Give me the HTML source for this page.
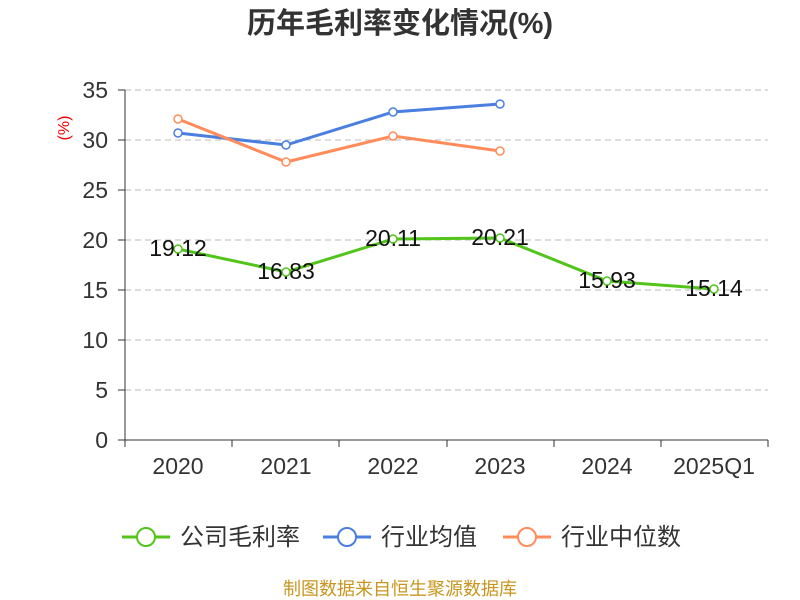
<!DOCTYPE html>
<html><head><meta charset="utf-8"><style>body{margin:0;background:#fff}svg{display:block}</style></head><body>
<svg width="800" height="600" xmlns="http://www.w3.org/2000/svg" font-family="Liberation Sans, Noto Sans CJK SC, sans-serif">
<text x="400" y="33" text-anchor="middle" font-size="29" font-weight="bold" fill="#333">历年毛利率变化情况(%)</text>
<text transform="translate(69,128) rotate(-90)" text-anchor="middle" font-size="16" fill="#e00">(%)</text>
<g stroke="#bbb" stroke-dasharray="6,4" stroke-width="1">
<line x1="125" x2="768" y1="90" y2="90"/><line x1="125" x2="768" y1="140" y2="140"/><line x1="125" x2="768" y1="190" y2="190"/><line x1="125" x2="768" y1="240" y2="240"/><line x1="125" x2="768" y1="290" y2="290"/><line x1="125" x2="768" y1="340" y2="340"/><line x1="125" x2="768" y1="390" y2="390"/>
</g>
<g stroke="#333" stroke-width="1">
<line x1="125" x2="125" y1="90" y2="440"/><line x1="125" x2="768" y1="440" y2="440"/>
<line x1="118" x2="125" y1="90" y2="90"/><line x1="118" x2="125" y1="140" y2="140"/><line x1="118" x2="125" y1="190" y2="190"/><line x1="118" x2="125" y1="240" y2="240"/><line x1="118" x2="125" y1="290" y2="290"/><line x1="118" x2="125" y1="340" y2="340"/><line x1="118" x2="125" y1="390" y2="390"/><line x1="118" x2="125" y1="440" y2="440"/>
<line x1="125" x2="125" y1="440" y2="447"/><line x1="232" x2="232" y1="440" y2="447"/><line x1="339" x2="339" y1="440" y2="447"/><line x1="447" x2="447" y1="440" y2="447"/><line x1="554" x2="554" y1="440" y2="447"/><line x1="661" x2="661" y1="440" y2="447"/><line x1="768" x2="768" y1="440" y2="447"/>
</g>
<g font-size="23" fill="#333" text-anchor="end">
<text x="108" y="98">35</text><text x="108" y="148">30</text><text x="108" y="198">25</text><text x="108" y="248">20</text><text x="108" y="298">15</text><text x="108" y="348">10</text><text x="108" y="398">5</text><text x="108" y="448">0</text>
</g>
<g font-size="23" fill="#333" text-anchor="middle">
<text x="178" y="474">2020</text><text x="286" y="474">2021</text><text x="393" y="474">2022</text><text x="500" y="474">2023</text><text x="607" y="474">2024</text><text x="714" y="474">2025Q1</text>
</g>
<polyline fill="none" stroke="#4a7fe0" stroke-width="3" points="178,133 286,145 393,112 500,104"/>
<polyline fill="none" stroke="#ff8c5a" stroke-width="3" points="178,119 286,162 393,136 500,151"/>
<polyline fill="none" stroke="#52c41a" stroke-width="3" points="178,249 286,272 393,239 500,238 607,281 714,289"/>
<g fill="#fff" stroke-width="1.5">
<g stroke="#4a7fe0"><circle cx="178" cy="133" r="4"/><circle cx="286" cy="145" r="4"/><circle cx="393" cy="112" r="4"/><circle cx="500" cy="104" r="4"/></g>
<g stroke="#ff8c5a"><circle cx="178" cy="119" r="4"/><circle cx="286" cy="162" r="4"/><circle cx="393" cy="136" r="4"/><circle cx="500" cy="151" r="4"/></g>
<g stroke="#52c41a"><circle cx="178" cy="249" r="4"/><circle cx="286" cy="272" r="4"/><circle cx="393" cy="239" r="4"/><circle cx="500" cy="238" r="4"/><circle cx="607" cy="281" r="4"/><circle cx="714" cy="289" r="4"/></g>
</g>
<g font-size="23" fill="#111" text-anchor="middle">
<text x="178" y="256">19.12</text><text x="286" y="279">16.83</text><text x="393" y="246">20.11</text><text x="500" y="245">20.21</text><text x="607" y="288">15.93</text><text x="714" y="296">15.14</text>
</g>
<g font-size="24" fill="#333">
<line x1="122" x2="170" y1="537" y2="537" stroke="#52c41a" stroke-width="3"/><circle cx="146" cy="537" r="9" fill="#fff" stroke="#52c41a" stroke-width="2"/><text x="180" y="545">公司毛利率</text>
<line x1="323" x2="371" y1="537" y2="537" stroke="#4a7fe0" stroke-width="3"/><circle cx="347" cy="537" r="9" fill="#fff" stroke="#4a7fe0" stroke-width="2"/><text x="381" y="545">行业均值</text>
<line x1="503" x2="551" y1="537" y2="537" stroke="#ff8c5a" stroke-width="3"/><circle cx="527" cy="537" r="9" fill="#fff" stroke="#ff8c5a" stroke-width="2"/><text x="561" y="545">行业中位数</text>
</g>
<text x="400" y="595" text-anchor="middle" font-size="18" fill="#c8961e">制图数据来自恒生聚源数据库</text>
</svg>
</body></html>
